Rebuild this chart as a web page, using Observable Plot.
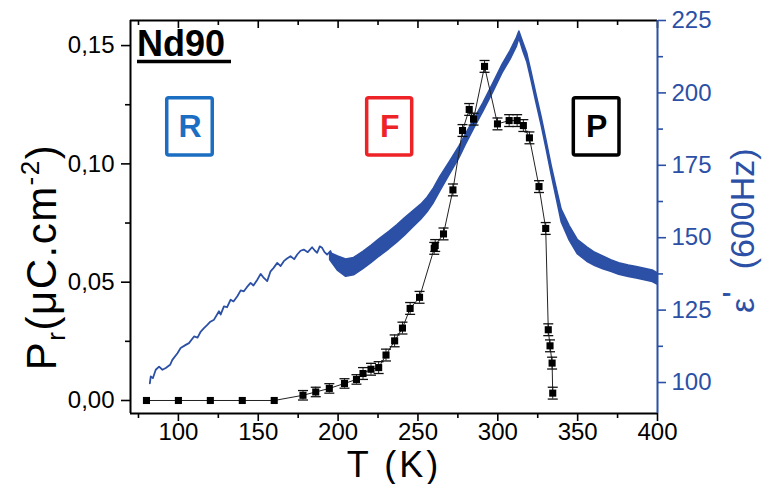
<!DOCTYPE html>
<html><head><meta charset="utf-8">
<script src="https://cdn.jsdelivr.net/npm/d3@7"></script>
<script src="https://cdn.jsdelivr.net/npm/@observablehq/plot@0.6"></script>
<style>
body{margin:0;background:#fff;}
#chart{width:763px;height:484px;}
</style></head><body><div id="chart"></div>
<script>
// ---- Pr (remanent polarization) series, with error bars ----
const prT = [80,100,120,140,160,178,186,194.5,204,211.5,215.6,220.6,225.4,230,235.4,240.3,245.1,251,260.2,260.8,266,271.9,277.9,282.1,284.8,291.7,299.8,307.1,312.1,316,319.8,325.8,330,331.6,332.7,334,334.4];
const prV = [0,0,0,0,0,0.0022,0.0036,0.0051,0.0072,0.0089,0.0114,0.0132,0.0139,0.0192,0.0252,0.0306,0.0389,0.0436,0.0643,0.0655,0.0704,0.089,0.1141,0.123,0.1189,0.1412,0.1169,0.1183,0.1183,0.1162,0.111,0.0904,0.0727,0.0299,0.0231,0.0158,0.0031];
const prErr = [0,0,0,0,0,0.002,0.002,0.002,0.002,0.002,0.0025,0.0025,0.0025,0.0025,0.0025,0.0025,0.0025,0.0025,0.0025,0.0025,0.0025,0.0025,0.0025,0.0025,0.0025,0.0025,0.0025,0.0025,0.0025,0.0025,0.0025,0.0025,0.0025,0.0025,0.0025,0.0025,0.0025];

// ---- permittivity eps' (600 Hz): low-T thin trace ----
const epsLowT = [82.1,82.7,84,85.8,87.9,90,92.1,94.8,96.2,99.4,101.4,104.6,106.6,109.8,112,114,116,118.1,120,122.3,125.4,126.5,128.5,130.5,132.7,134.5,136.9,139,141,143,145.2,147,149.4,151.5,153.5,155.6,157.7,159.5,161.9,164,166,168,170.2,172.5,174.4,176.5,178.5,181,183.7,185.5,186.9,188.5,190,191.5,193.1,195.2,197.3];
const epsLowV = [99.7,102.1,101.5,104.4,105.5,104.4,105,106.1,107.8,110.1,111.9,113,113.6,115.9,115.5,117.6,118.8,119.9,121,121.7,124.6,123.5,126.3,126,128.6,128,129.8,131.8,131.5,133,134.4,133.5,135.5,137.5,136.1,135,138.4,139.5,141.3,140.2,141.9,142.8,143.6,142.6,144.2,145.5,145.9,145,146.7,145.5,144.8,147,146.5,145,144.2,145.4,141.9];

// ---- permittivity eps' (600 Hz): dense band above 195 K (lower / upper edge) ----
const bandT  = [195,200,205,210,216,221,226,232,237,242,247,252,256,260,264,270,276,280,285,291,297,303,308,312,313.5,316,318.5,321,324,327.5,330.6,333.7,337,340,345,350,356,361,366,371,376,382,387,392,397,400];
const bandLo = [142.3,138.5,136.5,137,139.2,141.3,143.5,146,148.3,150.8,153.5,156.2,158.8,162,166,171.8,177.5,182,187.4,193.5,200,206.8,211.5,216,218.8,214.3,210.5,204.5,197,188.5,180.3,171.7,163.2,155.3,149,144.3,141.7,140.2,139.1,138.2,137.2,136.4,135.9,135.3,134.7,133.8];
const bandHi = [144.7,143.5,142.5,143,145.2,147.3,149.5,152,154.3,156.8,159.1,161.4,163.8,167,171,176.2,181.5,185.6,190.6,196.5,203,209.8,214.5,219,221.2,217.3,213.5,207.5,200,191.5,183.3,174.9,166.8,159.7,154,149.3,146.7,144.8,143.5,142.2,141.2,140.4,139.9,139.3,138.7,137.8];

// ---- ticks ----
const xTicks = [100,150,200,250,300,350,400];
const xMinor = [75,125,175,225,275,325,375];
const prTicks = [0,0.05,0.10,0.15];
const prTickLabels = ["0,00","0,05","0,10","0,15"];
const prMinor = [0.025,0.075,0.125];
const epsTicks = [100,125,150,175,200,225];
const epsMinor = [112.5,137.5,162.5,187.5,212.5];

// ---- layout ----
const W = 763, H = 484, mL = 130, mR = 106, mT = 20, mB = 71;
const plotH = H - mT - mB;
const xDom = [70, 400];
const yDom = [-0.0055, 0.1606];
const eDom = [89.3, 225];
const e2p = e => yDom[0] + (e - eDom[0]) / (eDom[1] - eDom[0]) * (yDom[1] - yDom[0]);
const p2e = p => eDom[0] + (p - yDom[0]) / (yDom[1] - yDom[0]) * (eDom[1] - eDom[0]);

const blue = "#2b50a5";
const font = "'Liberation Sans', Arial, sans-serif";

const pr = prT.map((t, i) => ({T: t, v: prV[i], e: prErr[i]}));
const prE = pr.filter(d => d.e > 0);
const low = epsLowT.map((t, i) => ({T: t, v: e2p(epsLowV[i])}));
const band = bandT.map((t, i) => ({T: t, lo: e2p(bandLo[i]), hi: e2p(bandHi[i])}));

const capSym = {draw(ctx, size) { const r = Math.sqrt(size / Math.PI); ctx.moveTo(-r, 0); ctx.lineTo(r, 0); }};

const chart = Plot.plot({
  width: W, height: H,
  marginLeft: mL, marginRight: mR, marginTop: mT, marginBottom: mB,
  x: {domain: xDom},
  y: {domain: yDom},
  style: {fontFamily: font, background: "#fff", color: "#000", fontSize: "24px"},
  marks: [
    // axes: bottom
    Plot.axisX({ticks: xTicks, tickSize: 8, tickPadding: 1, fontSize: 24, label: null, strokeWidth: 1.6}),
    Plot.axisX({ticks: xMinor, tickSize: 5, tickFormat: () => "", label: null, strokeWidth: 1.6}),
    // top inward ticks
    Plot.tickX(xTicks, {x: d => d, insetBottom: plotH - 8, stroke: "#000", strokeWidth: 1.6}),
    Plot.tickX(xMinor, {x: d => d, insetBottom: plotH - 5, stroke: "#000", strokeWidth: 1.6}),
    // left axis
    Plot.axisY({ticks: prTicks, tickSize: 9, tickPadding: 7, fontSize: 24, label: null, strokeWidth: 1.6,
      tickFormat: d => prTickLabels[prTicks.findIndex(t => Math.abs(t - d) < 1e-9)]}),
    Plot.axisY({ticks: prMinor, tickSize: 5, tickFormat: () => "", label: null, strokeWidth: 1.6}),
    // right axis (eps')
    Plot.axisY({anchor: "right", ticks: epsTicks.map(e2p), tickSize: 8, tickPadding: 6, fontSize: 24, label: null,
      color: blue, stroke: blue, fill: blue, strokeWidth: 1.6,
      tickFormat: d => String(Math.round(p2e(d)))}),
    Plot.axisY({anchor: "right", ticks: epsMinor.map(e2p), tickSize: 5, tickFormat: () => "", label: null,
      color: blue, stroke: blue, strokeWidth: 1.6}),
    // frame
    Plot.ruleY([yDom[1]], {stroke: "#000", strokeWidth: 2}),
    Plot.ruleY([yDom[0]], {stroke: "#000", strokeWidth: 2}),
    Plot.ruleX([xDom[0]], {stroke: "#000", strokeWidth: 2}),
    Plot.ruleX([xDom[1]], {stroke: blue, strokeWidth: 2}),
    // eps' data
    Plot.areaY(band, {x: "T", y1: "lo", y2: "hi", fill: blue, stroke: blue, strokeWidth: 1.5, curve: "linear"}),
    Plot.line(low, {x: "T", y: "v", stroke: blue, strokeWidth: 1.8}),
    // region boxes
    Plot.rect([{x1: 93, x2: 121.5, c: "#1b6ec2"}, {x1: 218.2, x2: 246.4, c: "#ee2328"}, {x1: 347.6, x2: 376.2, c: "#000"}],
      {x1: "x1", x2: "x2", y1: 0.1035, y2: 0.1277, stroke: "c", fill: "none", strokeWidth: 3.5, rx: 2}),
    Plot.text([{x: 107.3, t: "R", c: "#1b6ec2"}, {x: 232.3, t: "F", c: "#ee2328"}, {x: 361.9, t: "P", c: "#000"}],
      {x: "x", y: 0.1156, text: "t", fill: "c", fontSize: 32, fontWeight: "bold"}),
    // Pr data
    Plot.line(pr, {x: "T", y: "v", stroke: "#222", strokeWidth: 1}),
    Plot.ruleX(prE, {x: "T", y1: d => d.v - d.e, y2: d => d.v + d.e, stroke: "#222", strokeWidth: 1}),
    Plot.dot(prE, {x: "T", y: d => d.v + d.e, symbol: capSym, r: 5, stroke: "#111", strokeWidth: 1.3, fill: "none"}),
    Plot.dot(prE, {x: "T", y: d => d.v - d.e, symbol: capSym, r: 5, stroke: "#111", strokeWidth: 1.3, fill: "none"}),
    Plot.dot(pr, {x: "T", y: "v", symbol: "square", r: 4, fill: "#000", stroke: "none"})
  ]
});
document.getElementById("chart").appendChild(chart);

const svg = d3.select(chart);
// Sample label
svg.append("text").attr("x", 137).attr("y", 56).attr("text-anchor", "start").attr("font-family", font)
  .attr("font-size", 36).attr("font-weight", "bold").attr("fill", "#000").text("Nd90");
svg.append("line").attr("x1", 137).attr("x2", 231).attr("y1", 61.5).attr("y2", 61.5)
  .attr("stroke", "#000").attr("stroke-width", 3.5);

// Left axis title
const lt = svg.append("text").attr("transform", "translate(56,257) rotate(-90)")
  .attr("text-anchor", "middle").attr("font-family", font).attr("font-size", 42)
  .attr("letter-spacing", 1.5).attr("fill", "#000");
lt.append("tspan").text("P");
lt.append("tspan").attr("dy", 9).attr("font-size", 26).text("r");
lt.append("tspan").attr("dy", -9).text("(μC.cm");
lt.append("tspan").attr("dy", -17).attr("font-size", 26).text("-2");
lt.append("tspan").attr("dy", 17).text(")");

// Bottom axis title
svg.append("text").attr("x", 394).attr("y", 477).attr("text-anchor", "middle")
  .attr("font-family", font).attr("font-size", 36).attr("letter-spacing", 3).attr("fill", "#000").text("T (K)");

// Right axis title
const rt = svg.append("text").attr("transform", "translate(754,313) rotate(-90)").attr("text-anchor", "start")
  .attr("font-family", font).attr("font-size", 34).attr("fill", blue);
rt.append("tspan").text("ε");
rt.append("tspan").attr("dy", -8).text("'");
rt.append("tspan").attr("dy", 8).attr("dx", 22).text("(600Hz)");
</script></body></html>
